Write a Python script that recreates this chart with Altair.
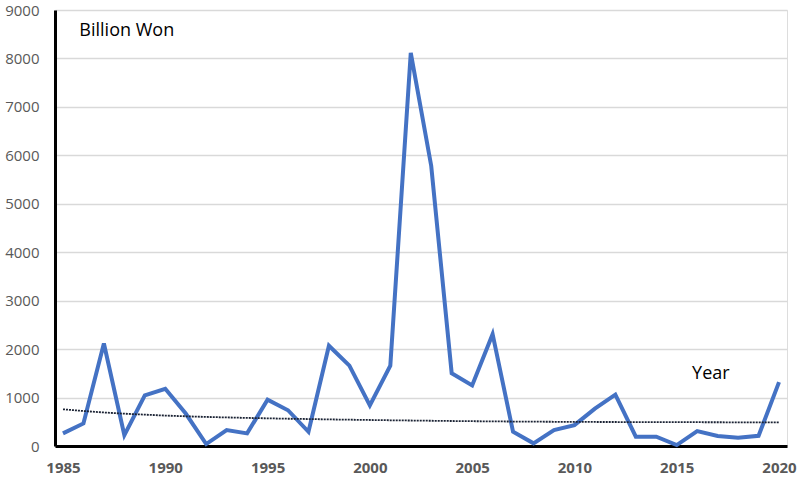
import altair as alt
import pandas as pd

years = list(range(1985, 2021))
values = [260, 465, 2117, 225, 1045, 1182, 670, 40, 328, 260,
          957, 738, 293, 2070, 1660, 840, 1660, 8115, 5780, 1502,
          1250, 2309, 293, 55, 328, 430, 772, 1059, 191, 191,
          20, 307, 205, 171, 211, 1318]
trend = [758, 722, 692, 667, 647, 628, 613, 600, 590, 580,
         571, 563, 556, 549, 543, 537, 531, 526, 521, 516,
         512, 508, 505, 502, 500, 498, 496, 495, 494, 493,
         492, 491, 490, 489, 488, 487]

label_text = ["Billion Won", "Year"]
label_x = [1985.8, 2015.75]
label_y = [8560, 1480]

df = pd.DataFrame({"year": years, "value": values, "trend": trend})
lab = pd.DataFrame({"text": label_text, "x": label_x, "y": label_y})

xscale = alt.Scale(domain=[1984.61, 2020.39], nice=False, zero=False)
yscale = alt.Scale(domain=[0, 9000], nice=False)

xaxis = alt.Axis(values=[1985, 1990, 1995, 2000, 2005, 2010, 2015, 2020], format="d",
                 title=None, grid=False, ticks=False, domain=True, domainColor="black",
                 domainWidth=3, labelColor="#595959", labelFontSize=15, labelFontWeight="bold",
                 labelFont="Open Sans", labelPadding=14)
yaxis = alt.Axis(values=list(range(0, 9001, 1000)), format="d", title=None, grid=True,
                 gridColor="#d9d9d9", gridWidth=1.5, ticks=False, domain=True,
                 domainColor="black", domainWidth=3, labelColor="#595959", labelFontSize=15,
                 labelFont="Open Sans", labelPadding=16)

base = alt.Chart(df)

main = base.mark_line(color="#4472C4", strokeWidth=4, strokeJoin="miter").encode(
    x=alt.X("year:Q", scale=xscale, axis=xaxis),
    y=alt.Y("value:Q", scale=yscale, axis=yaxis),
)
tr = base.mark_line(color="#1a2233", strokeWidth=1.8, strokeDash=[2, 1]).encode(
    x=alt.X("year:Q", scale=xscale),
    y=alt.Y("trend:Q", scale=yscale),
)
txt = alt.Chart(lab).mark_text(align="left", baseline="middle", fontSize=18,
                               font="Open Sans", color="black").encode(
    x=alt.X("x:Q", scale=xscale),
    y=alt.Y("y:Q", scale=yscale),
    text="text:N",
)

chart = (main + tr + txt).properties(
    width=732, height=436,
    autosize=alt.AutoSizeParams(type="none"),
    padding={"left": 55, "top": 10, "right": 13, "bottom": 32},
).configure_view(stroke=None).configure(background="white")

chart.save("out.html", embed_options={"renderer": "svg", "actions": False})
